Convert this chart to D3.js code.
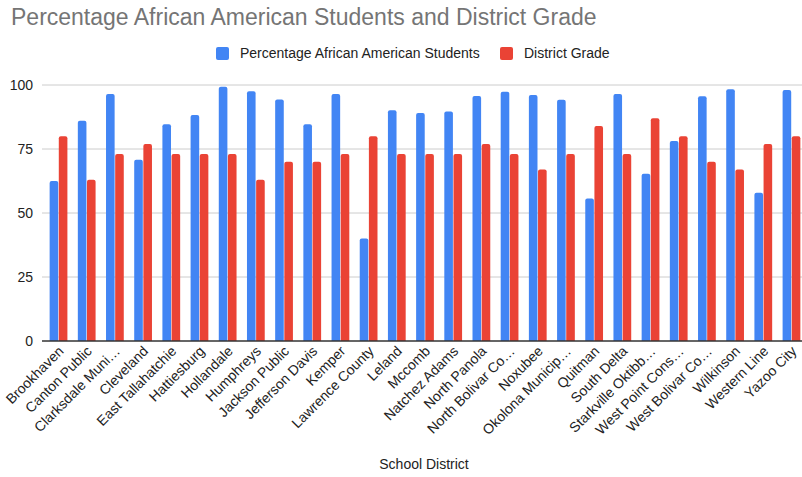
<!DOCTYPE html>
<html>
<head>
<meta charset="utf-8">
<script src="https://d3js.org/d3.v7.min.js"></script>
<style>
  body { margin: 0; background: #fff; }
  text { font-family: Arial, "Liberation Sans", sans-serif; }
</style>
</head>
<body>
<script>
// chart data
var districts = ["Brookhaven", "Canton Public", "Clarksdale Muni…", "Cleveland", "East Tallahatchie",
  "Hattiesburg", "Hollandale", "Humphreys", "Jackson Public", "Jefferson Davis", "Kemper",
  "Lawrence County", "Leland", "Mccomb", "Natchez Adams", "North Panola", "North Bolivar Co…",
  "Noxubee", "Okolona Municip…", "Quitman", "South Delta", "Starkville Oktibb…",
  "West Point Cons…", "West Bolivar Co…", "Wilkinson", "Western Line", "Yazoo City"];
var pctAfricanAmerican = [62.5, 86, 96.5, 70.8, 84.7, 88.3, 99.3, 97.6, 94.3, 84.7, 96.5,
  40, 90.1, 89.1, 89.6, 95.7, 97.4, 96.1, 94.2, 55.7, 96.5, 65.3, 78.1, 95.6, 98.3, 57.9, 98];
var districtGrade = [80, 63, 73, 77, 73, 73, 73, 63, 70, 70, 73,
  80, 73, 73, 73, 77, 73, 67, 73, 84, 73, 87, 80, 70, 67, 77, 80];
var seriesNames = ["Percentage African American Students", "District Grade"];
var seriesColors = ["#4285f4", "#ea4335"];
var yTicks = [0, 25, 50, 75, 100];

var width = 802, height = 477;
var svg = d3.select("body").append("svg").attr("width", width).attr("height", height);

var x = d3.scaleBand().domain(districts).range([44, 806]).paddingInner(0.37).paddingOuter(0.2);
var xs = d3.scaleBand().domain([0, 1]).range([0, x.bandwidth()]).paddingInner(0.06);
var y = d3.scaleLinear().domain([0, 100]).range([341, 85]);

// title
svg.append("text")
  .attr("x", 11).attr("y", 25)
  .attr("font-size", 23).attr("fill", "#757575")
  .text("Percentage African American Students and District Grade");

// legend
var legend = [{ name: seriesNames[0], color: seriesColors[0], x: 216 },
              { name: seriesNames[1], color: seriesColors[1], x: 500 }];
var lg = svg.selectAll(".lg").data(legend).enter().append("g");
lg.append("rect").attr("x", function (d) { return d.x; }).attr("y", 47)
  .attr("width", 13).attr("height", 13).attr("rx", 2).attr("fill", function (d) { return d.color; });
lg.append("text").attr("x", function (d) { return d.x + 24; }).attr("y", 58)
  .attr("font-size", 14).attr("fill", "#222").text(function (d) { return d.name; });

// gridlines and y labels
svg.selectAll(".grid").data(yTicks.filter(function (t) { return t > 0; })).enter().append("line")
  .attr("x1", 42).attr("x2", 806)
  .attr("y1", function (d) { return y(d); }).attr("y2", function (d) { return y(d); })
  .attr("stroke", "#cccccc").attr("stroke-width", 1);
svg.selectAll(".ylab").data(yTicks).enter().append("text")
  .attr("x", 33).attr("y", function (d) { return y(d) + 5; })
  .attr("text-anchor", "end").attr("font-size", 14).attr("fill", "#222")
  .text(function (d) { return d; });

// bars
var rows = districts.map(function (d, i) { return { name: d, vals: [pctAfricanAmerican[i], districtGrade[i]] }; });
var groups = svg.selectAll(".grp").data(rows).enter().append("g")
  .attr("transform", function (d) { return "translate(" + x(d.name) + ",0)"; });
groups.selectAll("path").data(function (d) { return d.vals; }).enter().append("path")
  .attr("fill", function (d, i) { return seriesColors[i]; })
  .attr("d", function (d, i) {
    var x0 = xs(i), w = xs.bandwidth(), top = y(d), bot = y(0), r = 2;
    return "M" + x0 + "," + bot + "V" + (top + r) + "Q" + x0 + "," + top + " " + (x0 + r) + "," + top +
      "H" + (x0 + w - r) + "Q" + (x0 + w) + "," + top + " " + (x0 + w) + "," + (top + r) + "V" + bot + "Z";
  });

// baseline
svg.append("line").attr("x1", 42).attr("x2", 806).attr("y1", y(0)).attr("y2", y(0))
  .attr("stroke", "#333").attr("stroke-width", 1.3);

// x labels
svg.selectAll(".xlab").data(districts).enter().append("text")
  .attr("transform", function (d) {
    return "translate(" + (x(d) + x.bandwidth() / 2 + 6) + ",352) rotate(-45)";
  })
  .attr("text-anchor", "end").attr("font-size", 14).attr("fill", "#222")
  .text(function (d) { return d; });

// x axis title
svg.append("text").attr("x", 424).attr("y", 469).attr("text-anchor", "middle")
  .attr("font-size", 14).attr("fill", "#222").text("School District");
</script>
</body>
</html>
